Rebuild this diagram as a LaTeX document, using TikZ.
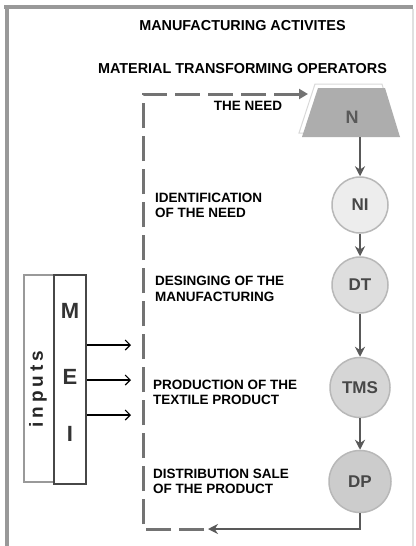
\documentclass[tikz,border=0pt]{standalone}
\usepackage{fontspec}
\setmainfont{Liberation Sans}
\usetikzlibrary{arrows.meta}
\begin{document}
\begin{tikzpicture}[x=1pt,y=-1pt,
 title/.style={font=\bfseries\fontsize{14.4}{16}\selectfont, inner sep=0},
 lbl/.style={font=\bfseries\fontsize{13.5}{15.6}\selectfont, align=left, anchor=west, inner sep=0},
 stage/.style={circle, draw=black!28, line width=1.5pt, inner sep=0, font=\bfseries\fontsize{17}{17}\selectfont, text=black!72},
 flow/.style={draw=black!65, line width=2.2pt, -{Stealth[length=10pt,width=10pt]}},
 loopline/.style={draw=black!55, line width=3pt, dash pattern=on 25pt off 8pt},
 inarrow/.style={draw=black, line width=1.1pt, -{Straight Barb[length=5pt,width=10pt]}},
 letter/.style={font=\bfseries\fontsize{22}{22}\selectfont, text=black!80, inner sep=0}
]
\useasboundingbox (0,0) rectangle (415,546);
\fill[white] (0,0) rectangle (415,546);
% frame
\draw[black!40, line width=4pt] (4,7) -- (413,7);
\draw[black!40, line width=4pt] (6.5,5) -- (6.5,546);
\draw[black!12, line width=1.5pt] (413,9) -- (413,546);
% titles
\node[title] (t1) at (242.5,26) {MANUFACTURING ACTIVITES};
\node[title] (t2) at (242.5,68.5) {MATERIAL TRANSFORMING OPERATORS};
% N trapezoid
\filldraw[fill=white, draw=black!15, line width=1pt] (299,133) -- (396,133) -- (382,84) -- (315,84) -- cycle;
\fill[black!32] (302,137) -- (400,137) -- (385,88) -- (318,88) -- cycle;
\node[font=\bfseries\fontsize{18}{18}\selectfont, text=black!65, minimum height=40pt, inner sep=0] (N) at (352,117) {N};
% stages
\node[stage, fill=black!7, minimum size=56pt] (NI) at (360,205) {NI};
\node[stage, fill=black!13, minimum size=56pt] (DT) at (360,285) {DT};
\node[stage, fill=black!16, minimum size=60pt] (TMS) at (360,387.5) {TMS};
\node[stage, fill=black!20, minimum size=62pt] (DP) at (360,481.5) {DP};
\draw[flow] (N.south -| NI.north) -- (NI.north);
\draw[flow] (NI) -- (DT);
\draw[flow] (DT) -- (TMS);
\draw[flow] (TMS) -- (DP);
% loop back
\coordinate (ret) at (208,529);
\coordinate (ntip) at (308,94);
\draw[draw=black!65, line width=2pt, -{Stealth[length=10pt,width=10pt]}] (DP.south) |- (ret);
\draw[loopline, -{Triangle[length=9pt,width=10pt]}] ([xshift=-4pt]ret) -- (143,529) -- (143,94) -- (ntip);
% labels
\node[title, font=\bfseries\fontsize{13.5}{15.6}\selectfont] (need) at (248,106) {THE NEED};
\node[lbl] (l1) at (155,205.5) {IDENTIFICATION\\OF THE NEED};
\node[lbl] (l2) at (155,289) {DESINGING OF THE\\MANUFACTURING};
\node[lbl] (l3) at (153,392.5) {PRODUCTION OF THE\\TEXTILE PRODUCT};
\node[lbl] (l4) at (153,481.5) {DISTRIBUTION SALE\\OF THE PRODUCT};
% inputs box
\node[draw=black!40, line width=1.5pt, minimum width=30pt, minimum height=207pt, inner sep=0] (inp) at (39,378.5) {};
\node[draw=black!72, line width=2pt, minimum width=32pt, minimum height=209pt, inner sep=0] (mei) at (70,379.5) {};
\node[rotate=90, font=\bfseries\fontsize{19}{19}\selectfont, text=black!85, inner sep=0] (inputs) at (38,389) {i\kern4pt n\kern4pt p\kern4pt u\kern4pt t\kern4pt s};
\node[letter] (M) at (70,311) {M};
\node[letter] (E) at (70,377) {E};
\node[letter] (I) at (70,434) {I};
\coordinate (a1) at (131,345);
\coordinate (a2) at (131,380);
\coordinate (a3) at (131,415);
\draw[inarrow] (mei.east |- a1) -- (a1);
\draw[inarrow] (mei.east |- a2) -- (a2);
\draw[inarrow] (mei.east |- a3) -- (a3);
\end{tikzpicture}
\end{document}
